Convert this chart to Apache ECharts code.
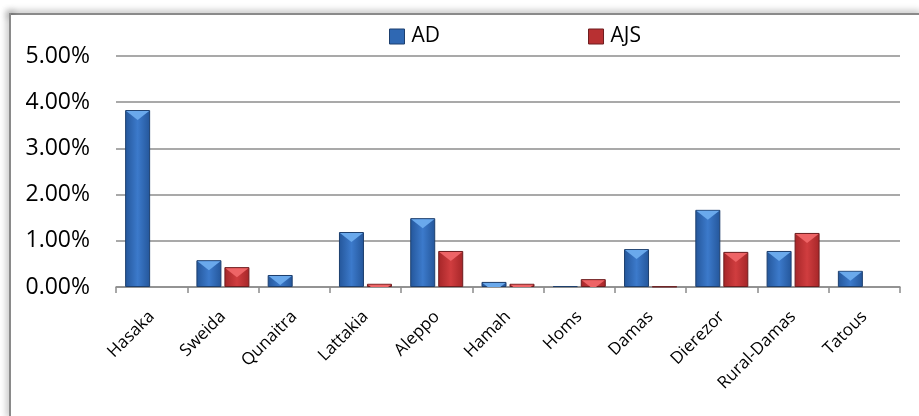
<!DOCTYPE html>
<html>
<head>
<meta charset="utf-8">
<script src="https://cdn.jsdelivr.net/npm/echarts@6/dist/echarts.min.js"></script>
<style>
  html, body { margin: 0; padding: 0; background: #fff; overflow: hidden; width: 919px; height: 416px; }
  .edge { position: absolute; background: #8a8a8a; box-shadow: 0 0 7px 2px rgba(0,0,0,0.28); }
  #edgeTop { left: 9px; top: 13px; width: 910px; height: 2px; }
  #edgeLeft { left: 9px; top: 13px; width: 2px; height: 403px; }
  #cover { position: absolute; left: 11px; top: 15px; width: 908px; height: 401px; background: #fff; }
  #myChart { position: absolute; left: 0; top: 0; width: 919px; height: 416px; }
</style>
</head>
<body>
<div class="edge" id="edgeTop"></div>
<div class="edge" id="edgeLeft"></div>
<div id="cover"></div>
<div id="myChart"></div>
<script>
// data (percent values)
var cities = ['Hasaka', 'Sweida', 'Qunaitra', 'Lattakia', 'Aleppo', 'Hamah', 'Homs', 'Damas', 'Dierezor', 'Rural-Damas', 'Tatous'];
var adValues = [3.83, 0.58, 0.26, 1.19, 1.49, 0.11, 0.02, 0.82, 1.67, 0.78, 0.35];
var ajsValues = [0, 0.43, 0, 0.07, 0.78, 0.07, 0.17, 0.01, 0.76, 1.17, 0];
var yTicks = [0, 1, 2, 3, 4, 5];

var fontName = '"Open Sans", "Liberation Sans", sans-serif';

// zero values draw nothing
function noZero(arr) {
  return arr.map(function (v) { return v === 0 ? '-' : v; });
}

function barGrad(edge, mid) {
  return new echarts.graphic.LinearGradient(0, 0, 1, 0, [
    { offset: 0, color: edge },
    { offset: 0.5, color: mid },
    { offset: 1, color: edge }
  ]);
}

var bevel = 'path://M0,0 L10,0 L5,4 Z';

var myChart = echarts.init(document.getElementById('myChart'));

myChart.setOption({
  animation: false,
  legend: {
    data: [
      { name: 'AD', icon: 'rect', itemStyle: { color: '#2f68b3', borderColor: '#1d3f6e', borderWidth: 1 } },
      { name: 'AJS', icon: 'rect', itemStyle: { color: '#b83032', borderColor: '#6e1d1f', borderWidth: 1 } }
    ],
    top: 21,
    left: 384,
    itemWidth: 15,
    itemHeight: 15,
    itemGap: 148,
    textStyle: { fontFamily: fontName, fontSize: 21, color: '#000', padding: [0, 0, 0, 2] }
  },
  grid: { left: 116, right: 19, top: 56, bottom: 129 },
  xAxis: {
    type: 'category',
    data: cities,
    axisLine: { lineStyle: { color: '#8c8c8c', width: 1.5 } },
    axisTick: { show: true, alignWithLabel: false, length: 6, lineStyle: { color: '#8c8c8c', width: 1.5 } },
    axisLabel: {
      rotate: 45,
      interval: 0,
      margin: 27,
      fontFamily: fontName,
      fontSize: 17,
      color: '#000'
    }
  },
  yAxis: {
    type: 'value',
    min: yTicks[0],
    max: yTicks[yTicks.length - 1],
    interval: 1,
    axisLine: { show: false },
    axisTick: { show: false },
    splitLine: { lineStyle: { color: '#8c8c8c', width: 1.5 } },
    axisLabel: {
      margin: 26,
      fontFamily: fontName,
      fontSize: 23,
      color: '#000',
      formatter: function (v) { return v.toFixed(2) + '%'; }
    }
  },
  series: [
    {
      name: 'AD',
      type: 'bar',
      data: noZero(adValues),
      barWidth: 25,
      barGap: '12%',
      itemStyle: { color: barGrad('#24569a', '#3c7acb'), borderColor: '#1d3f6e', borderWidth: 1 }
    },
    {
      name: 'AJS',
      type: 'bar',
      data: noZero(ajsValues),
      barWidth: 25,
      barGap: '12%',
      itemStyle: { color: barGrad('#a52628', '#d03d3f'), borderColor: '#6e1d1f', borderWidth: 1 }
    },
    {
      name: 'AD',
      type: 'pictorialBar',
      data: noZero(adValues),
      barWidth: 25,
      barGap: '12%',
      symbol: bevel,
      symbolSize: [23, 9],
      symbolPosition: 'end',
      symbolOffset: [0, 1],
      symbolClip: true,
      z: 3,
      silent: true,
      itemStyle: { color: '#6aa9ec' }
    },
    {
      name: 'AJS',
      type: 'pictorialBar',
      data: noZero(ajsValues),
      barWidth: 25,
      barGap: '12%',
      symbol: bevel,
      symbolSize: [23, 9],
      symbolPosition: 'end',
      symbolOffset: [0, 1],
      symbolClip: true,
      z: 3,
      silent: true,
      itemStyle: { color: '#ee6466' }
    }
  ]
});
</script>
</body>
</html>
